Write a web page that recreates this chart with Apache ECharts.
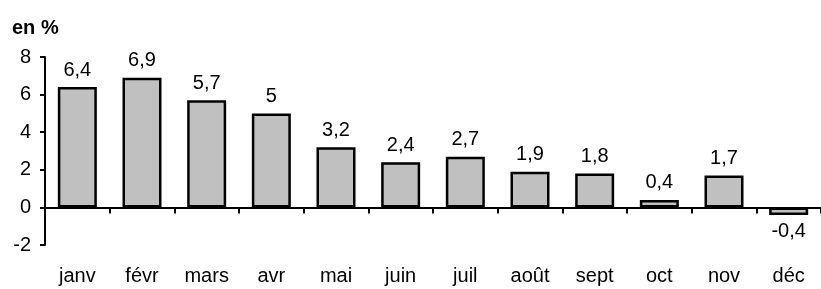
<!DOCTYPE html>
<html><head><meta charset="utf-8">
<script src="https://cdn.jsdelivr.net/npm/echarts@6/dist/echarts.min.js"></script>
<style>html,body{margin:0;padding:0;background:#fff}#c{width:821px;height:289px}</style>
</head><body><div id="c"></div>
<script>
const categories = ['janv','févr','mars','avr','mai','juin','juil','août','sept','oct','nov','déc'];
const values = [6.4, 6.9, 5.7, 5, 3.2, 2.4, 2.7, 1.9, 1.8, 0.4, 1.7, -0.4];
const yTicks = [-2, 0, 2, 4, 6, 8];
const unitLabel = 'en %';

const FONT = 'Liberation Sans, Arial, sans-serif';
const chart = echarts.init(document.getElementById('c'), null, {renderer: 'canvas'});
chart.setOption({
  animation: false,
  backgroundColor: '#fff',
  title: {
    text: unitLabel, left: 7, top: 13,
    textStyle: {fontFamily: FONT, fontSize: 20, fontWeight: 'bold', color: '#000'}
  },
  grid: {left: 45, right: -5, top: 57, bottom: 44, containLabel: false},
  xAxis: [{
    type: 'category', data: categories, position: 'bottom',
    axisLine: {onZero: true, lineStyle: {color: '#000', width: 2}},
    axisTick: {show: true, length: 6, inside: false, lineStyle: {color: '#000', width: 2}},
    axisLabel: {show: false},
    splitLine: {show: false}
  }, {
    type: 'category', data: categories, position: 'bottom',
    axisLine: {show: false, onZero: false},
    axisTick: {show: false},
    axisLabel: {show: true, margin: 21, interval: 0, fontFamily: FONT, fontSize: 20, color: '#000'}
  }],
  yAxis: {
    type: 'value', min: yTicks[0], max: yTicks[yTicks.length - 1], interval: 2,
    axisLine: {show: true, onZero: false, lineStyle: {color: '#000', width: 2}},
    axisTick: {show: true, length: 5, lineStyle: {color: '#000', width: 2}},
    axisLabel: {margin: 14, padding: [5, 0, 0, 0], fontFamily: FONT, fontSize: 20, color: '#000'},
    splitLine: {show: false}
  },
  series: [{
    type: 'bar', xAxisIndex: 0,
    data: values.map(v => ({value: v, label: {position: v < 0 ? 'bottom' : 'top'}})),
    barWidth: 39,
    itemStyle: {color: '#c0c0c0', borderColor: '#000', borderWidth: 2.5},
    label: {
      show: true, distance: 7, fontFamily: FONT, fontSize: 20, color: '#000',
      formatter: p => String(p.value).replace('.', ',')
    }
  }]
});
</script></body></html>
